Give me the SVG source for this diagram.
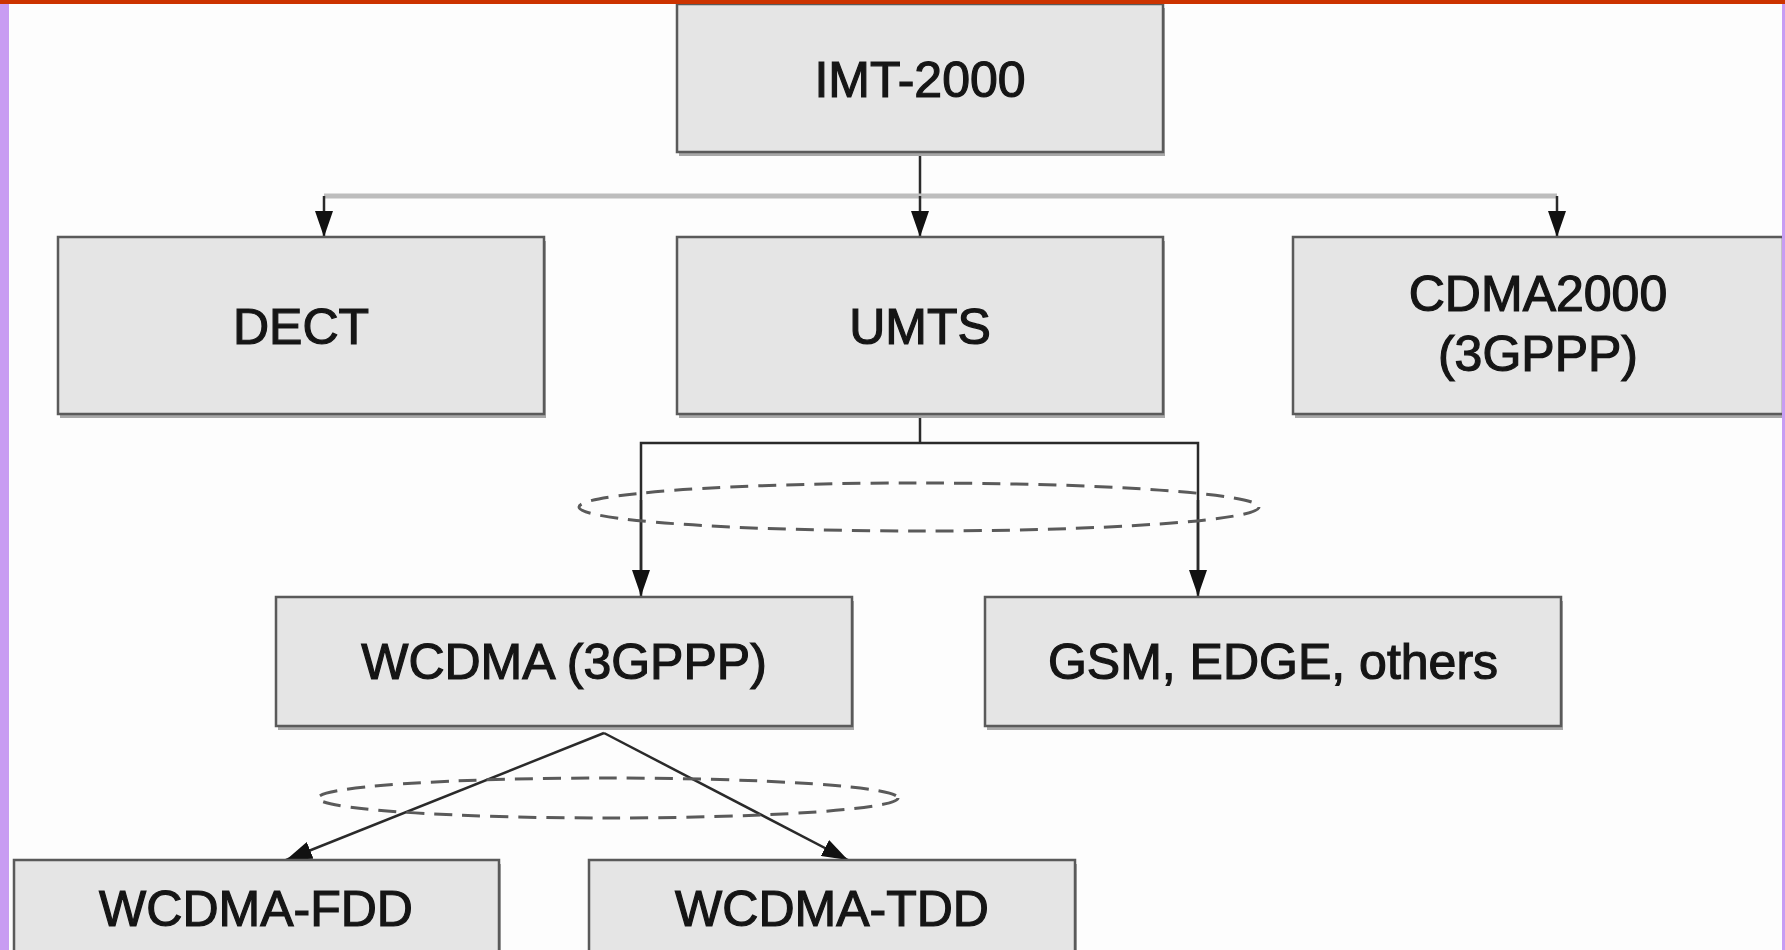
<svg xmlns="http://www.w3.org/2000/svg" width="1785" height="950" viewBox="0 0 1785 950">
<defs>
<style>
.box{fill:#e5e5e5;stroke:#5a5a5a;stroke-width:2.5}
.shadow{fill:#a8a8a8}
.lbl{font-family:"Liberation Sans",Arial,sans-serif;font-size:50px;fill:#151515;stroke:#151515;stroke-width:1.2;text-anchor:middle}
.ln{fill:none;stroke:#2a2a2a;stroke-width:2.5}
.dash{fill:none;stroke:#5a5a5a;stroke-width:3;stroke-dasharray:18 10}
</style>
<marker id="ah" markerUnits="userSpaceOnUse" markerWidth="26" markerHeight="18" refX="26" refY="9" orient="auto" viewBox="0 0 26 18">
<path d="M0,0 L26,9 L0,18 Z" fill="#111"/>
</marker>
</defs>
<rect x="0" y="0" width="1785" height="950" fill="#fdfdfd"/>

<g id="connectors">
<line class="ln" x1="920" y1="152" x2="920" y2="196"/>
<line x1="324" y1="196" x2="1557" y2="196" stroke="#bdbdbd" stroke-width="5"/>
<line class="ln" x1="324" y1="196" x2="324" y2="237" marker-end="url(#ah)"/>
<line class="ln" x1="920" y1="196" x2="920" y2="237" marker-end="url(#ah)"/>
<line class="ln" x1="1557" y1="196" x2="1557" y2="237" marker-end="url(#ah)"/>
<polyline class="ln" points="920,414 920,443"/>
<polyline class="ln" points="641,594 641,443 1198,443 1198,594"/>
<line class="ln" x1="641" y1="500" x2="641" y2="596" marker-end="url(#ah)"/>
<line class="ln" x1="1198" y1="500" x2="1198" y2="596" marker-end="url(#ah)"/>
<ellipse class="dash" cx="919" cy="507" rx="340" ry="24"/>
<line class="ln" x1="604" y1="733" x2="286" y2="860" marker-end="url(#ah)"/>
<line class="ln" x1="604" y1="733" x2="848" y2="860" marker-end="url(#ah)"/>
<ellipse class="dash" cx="608" cy="798" rx="290" ry="20"/>
</g>

<g id="imt2000">
<rect class="shadow" x="679" y="8" width="486" height="148"/>
<rect class="box" x="677" y="4" width="486" height="148"/>
<text class="lbl" x="920" y="97">IMT-2000</text>
</g>
<g id="dect">
<rect class="shadow" x="60" y="241" width="486" height="177"/>
<rect class="box" x="58" y="237" width="486" height="177"/>
<text class="lbl" x="301" y="344">DECT</text>
</g>
<g id="umts">
<rect class="shadow" x="679" y="241" width="486" height="177"/>
<rect class="box" x="677" y="237" width="486" height="177"/>
<text class="lbl" x="920" y="344">UMTS</text>
</g>
<g id="cdma2000">
<rect class="shadow" x="1295" y="241" width="490" height="177"/>
<rect class="box" x="1293" y="237" width="490" height="177"/>
<text class="lbl" x="1538" y="311">CDMA2000</text>
<text class="lbl" x="1538" y="371">(3GPPP)</text>
</g>
<g id="wcdma">
<rect class="shadow" x="278" y="601" width="576" height="129"/>
<rect class="box" x="276" y="597" width="576" height="129"/>
<text class="lbl" x="564" y="679">WCDMA (3GPPP)</text>
</g>
<g id="gsm">
<rect class="shadow" x="987" y="601" width="576" height="129"/>
<rect class="box" x="985" y="597" width="576" height="129"/>
<text class="lbl" x="1273" y="679">GSM, EDGE, others</text>
</g>
<g id="wcdma-fdd">
<rect class="shadow" x="16" y="864" width="485" height="100"/>
<rect class="box" x="14" y="860" width="485" height="100"/>
<text class="lbl" x="256" y="926">WCDMA-FDD</text>
</g>
<g id="wcdma-tdd">
<rect class="shadow" x="591" y="864" width="486" height="100"/>
<rect class="box" x="589" y="860" width="486" height="100"/>
<text class="lbl" x="832" y="926">WCDMA-TDD</text>
</g>

<rect x="0" y="0" width="1785" height="4" fill="#cc3300"/>
<rect x="0" y="4" width="9" height="946" fill="#c89cf2"/>
<rect x="1782" y="4" width="3" height="946" fill="#c89cf2"/>
</svg>
